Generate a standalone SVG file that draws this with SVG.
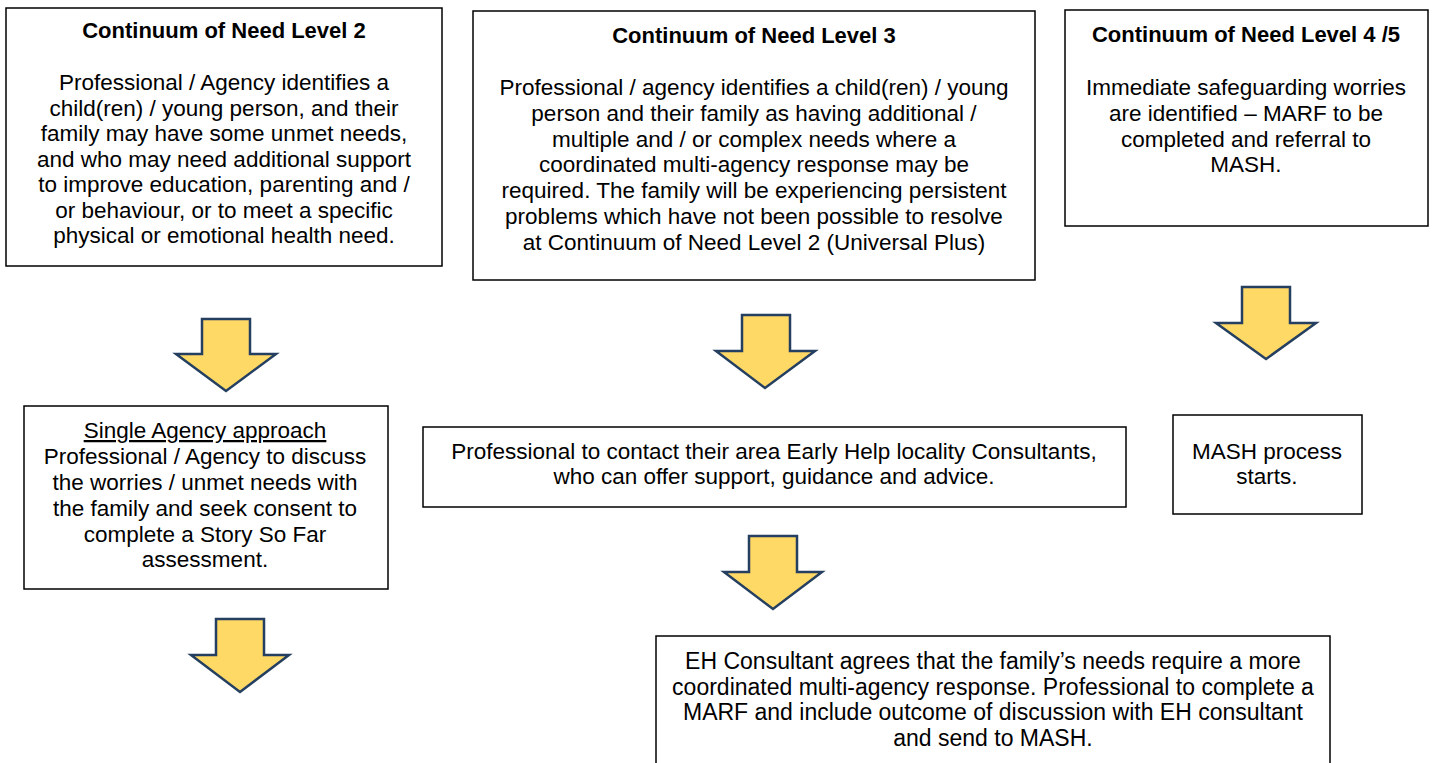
<svg xmlns="http://www.w3.org/2000/svg" width="1435" height="763" viewBox="0 0 1435 763">
<style>
.box{fill:#fff;stroke:#000;stroke-width:1.5}
.t{font-family:"Liberation Sans",Arial,sans-serif;font-size:22.5px;fill:#000;text-anchor:middle}
.h{font-family:"Liberation Sans",Arial,sans-serif;font-size:22px;font-weight:bold;fill:#000;text-anchor:middle}
.b{font-size:23px}
.arr{fill:#FFD966;stroke:#243F60;stroke-width:2.5;stroke-linejoin:miter}
</style>
<rect width="1435" height="763" fill="#fff"/>
<g id="n1">
<rect class="box" x="6" y="8" width="436" height="258"/>
<text class="h" x="224" y="38">Continuum of Need Level 2</text>
<text class="t" x="224" y="90">Professional / Agency identifies a</text>
<text class="t" x="224" y="115.5">child(ren) / young person, and their</text>
<text class="t" x="224" y="141">family may have some unmet needs,</text>
<text class="t" x="224" y="166.5">and who may need additional support</text>
<text class="t" x="224" y="192">to improve education, parenting and /</text>
<text class="t" x="224" y="217.5">or behaviour, or to meet a specific</text>
<text class="t" x="224" y="243">physical or emotional health need.</text>
</g>
<g id="n2">
<rect class="box" x="473" y="11" width="562" height="269"/>
<text class="h" x="754" y="43">Continuum of Need Level 3</text>
<text class="t" x="754" y="95">Professional / agency identifies a child(ren) / young</text>
<text class="t" x="754" y="120.8">person and their family as having additional /</text>
<text class="t" x="754" y="146.6">multiple and / or complex needs where a</text>
<text class="t" x="754" y="172.4">coordinated multi-agency response may be</text>
<text class="t" x="754" y="198.2">required. The family will be experiencing persistent</text>
<text class="t" x="754" y="224">problems which have not been possible to resolve</text>
<text class="t" x="754" y="249.8">at Continuum of Need Level 2 (Universal Plus)</text>
</g>
<g id="n3">
<rect class="box" x="1065" y="10" width="363" height="216"/>
<text class="h" x="1246" y="42">Continuum of Need Level 4 /5</text>
<text class="t" x="1246" y="95">Immediate safeguarding worries</text>
<text class="t" x="1246" y="121">are identified – MARF to be</text>
<text class="t" x="1246" y="147">completed and referral to</text>
<text class="t" x="1246" y="172">MASH.</text>
</g>
<g id="n4">
<rect class="box" x="24" y="406" width="364" height="183"/>
<text class="t" x="205" y="438" text-decoration="underline">Single Agency approach</text>
<text class="t" x="205" y="464">Professional / Agency to discuss</text>
<text class="t" x="205" y="490">the worries / unmet needs with</text>
<text class="t" x="205" y="516">the family and seek consent to</text>
<text class="t" x="205" y="542">complete a Story So Far</text>
<text class="t" x="205" y="567">assessment.</text>
</g>
<g id="n5">
<rect class="box" x="423" y="427" width="703" height="80"/>
<text class="t" x="774" y="459">Professional to contact their area Early Help locality Consultants,</text>
<text class="t" x="774" y="484">who can offer support, guidance and advice.</text>
</g>
<g id="n6">
<rect class="box" x="1173" y="415" width="189" height="99"/>
<text class="t" x="1267" y="459">MASH process</text>
<text class="t" x="1267" y="484">starts.</text>
</g>
<g id="n7">
<rect class="box" x="656" y="636" width="674" height="140"/>
<text class="t b" x="993" y="669">EH Consultant agrees that the family’s needs require a more</text>
<text class="t b" x="993" y="695">coordinated multi-agency response. Professional to complete a</text>
<text class="t b" x="993" y="720">MARF and include outcome of discussion with EH consultant</text>
<text class="t b" x="993" y="746">and send to MASH.</text>
</g>
<g id="connectors">
<path class="arr" d="M202,319 H250 V354 H276 L226,391 L176,354 H202 Z"/>
<path class="arr" d="M742,315 H790 V351 H815 L765,388 L716,351 H742 Z"/>
<path class="arr" d="M1242,287 H1290 V323 H1316 L1266,359 L1216,323 H1242 Z"/>
<path class="arr" d="M749,536 H797 V572 H822 L773,609 L724,572 H749 Z"/>
<path class="arr" d="M216,619 H264 V655 H289 L240,692 L191,655 H216 Z"/>
</g>
</svg>
